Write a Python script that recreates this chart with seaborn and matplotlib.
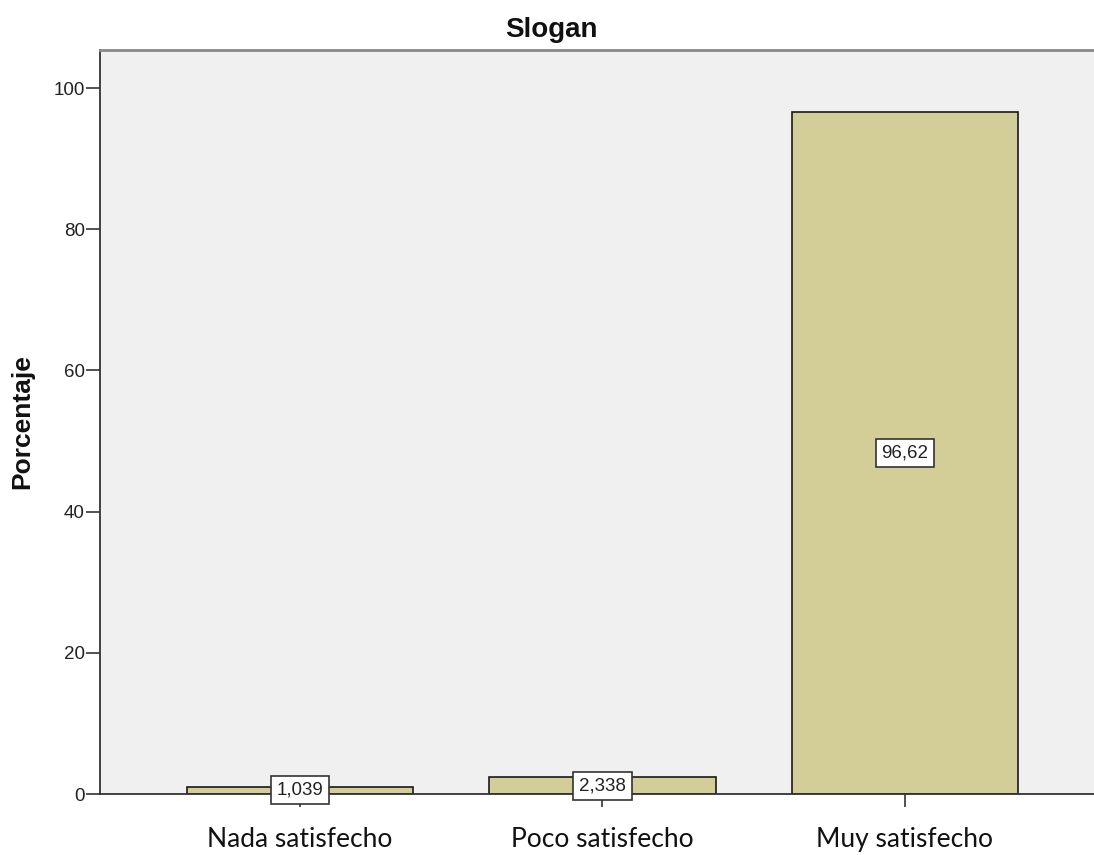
import matplotlib
matplotlib.use("Agg")
import matplotlib.pyplot as plt
import seaborn as sns
import pandas as pd

# Data
categories = ["Nada satisfecho", "Poco satisfecho", "Muy satisfecho"]
percentages = [1.039, 2.338, 96.62]
value_labels = ["1,039", "2,338", "96,62"]
y_ticks = [0, 20, 40, 60, 80, 100]

df = pd.DataFrame({"categoria": categories, "porcentaje": percentages})

sns.set_theme(style="white")
plt.rcParams["font.family"] = ["Liberation Sans", "DejaVu Sans"]

fig = plt.figure(figsize=(10.94, 8.55), dpi=100)
ax = fig.add_axes([100 / 1094, 61 / 855, 1004 / 1094, 744 / 855])
ax.set_facecolor("#F0F0F0")

sns.barplot(data=df, x="categoria", y="porcentaje", ax=ax, color="#D3CD97",
            edgecolor="#1a1a1a", linewidth=1.2, width=0.75, saturation=1)

ax.set_xlim(-0.661, 2.658)
ax.set_ylim(0, 105.4)
ax.set_yticks(y_ticks)
ax.set_yticklabels([str(t) for t in y_ticks], fontsize=13.5, color="#222222")
ax.tick_params(axis="y", direction="out", length=10, width=1.2, color="#333333",
               left=True, pad=1)
ax.tick_params(axis="x", direction="out", length=9, width=1.2, color="#333333",
               bottom=True, pad=14.5)
ax.set_xticks(range(len(categories)))
ax.set_xticklabels(categories, fontsize=19, family=["Lato", "DejaVu Sans"],
                   color="#111111")

ax.set_xlabel("")
ax.set_ylabel("")
fig.text(22 / 1094, 1 - 422 / 855, "Porcentaje", rotation=90, ha="center",
         va="center", fontsize=19, fontweight="bold", color="#111111")

for side in ["left", "bottom"]:
    ax.spines[side].set_color("#333333")
    ax.spines[side].set_linewidth(1.3)
ax.spines["top"].set_color("#888888")
ax.spines["top"].set_linewidth(2)
ax.spines["right"].set_visible(False)

# Value labels in boxes at half height of each bar
for i, (v, lab) in enumerate(zip(percentages, value_labels)):
    ax.text(i, v / 2, lab, ha="center", va="center", fontsize=13.5, color="#222222",
            bbox=dict(boxstyle="square,pad=0.3", facecolor="white",
                      edgecolor="#333333", linewidth=1.2), zorder=5)

fig.text(551 / 1094, 1 - 30 / 855, "Slogan", ha="center", va="center",
         fontsize=20, fontweight="bold", color="#111111")

fig.savefig("out.png", dpi=100)
